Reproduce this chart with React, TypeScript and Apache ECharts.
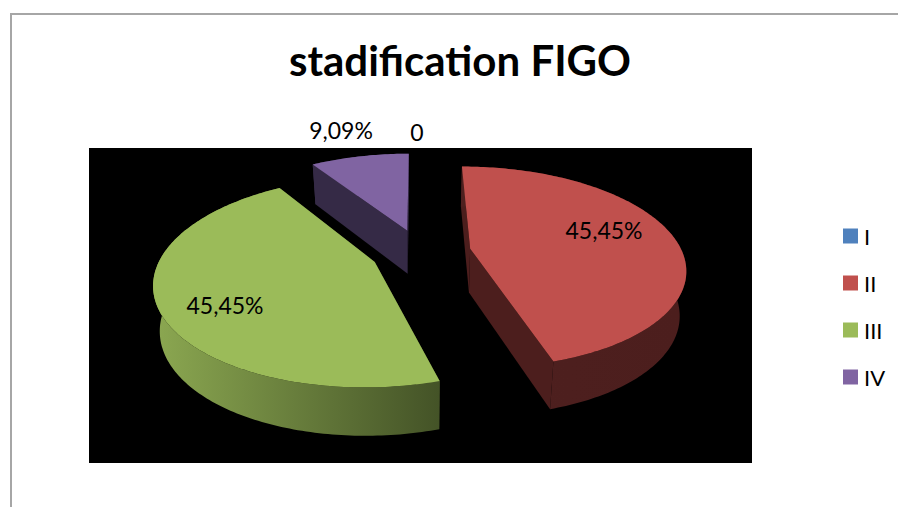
import React, { useEffect, useRef } from "react";
import * as echarts from "echarts";

const titleText = "stadification FIGO";
const stages = ["I", "II", "III", "IV"];
const counts = [0, 5, 5, 1];
const topColors = ["#4f81bd", "#c0504d", "#9bbb59", "#8064a2"];
const wallColors: string[][] = [
  ["#27405e", "#27405e"],
  ["#4e201f", "#4c1e1d"],
  ["#8aa650", "#445327"],
  ["#352a46", "#352a46"],
];
const labelPositions: number[][] = [
  [417, 132],
  [604, 230],
  [225, 305],
  [341, 130],
];

const FONT = "Lato";
const START_DEG = -0.2;
const CX = 421;
const CY = 252;
const R = 212;
const TILT = 98.3;
const PERSP = 0.184;
const EXPLODE = 50;
const WALL = 44;
const WALL_P = 4;
const SHRINK = 0.975;
const total = counts.reduce((a, b) => a + b, 0);

function project(X: number, Z: number, lower: boolean): number[] {
  const s = 1 / (1 - (PERSP * Z) / R);
  const x = X * s;
  const y = (Z / R) * TILT * s;
  if (!lower) return [CX + x, CY + y];
  return [CX + x * SHRINK, CY + y + WALL + (WALL_P * Z) / R];
}

function sliceGeometry(i: number, value: number) {
  const before = counts.slice(0, i).reduce((a, b) => a + b, 0);
  const a0 = START_DEG + (before / total) * 360;
  const a1 = a0 + (value / total) * 360;
  const mid = (((a0 + a1) / 2) * Math.PI) / 180;
  const ax = Math.sin(mid) * EXPLODE;
  const az = -Math.cos(mid) * EXPLODE;
  const steps = Math.max(2, Math.ceil(a1 - a0));
  const rim: number[][] = [];
  for (let k = 0; k <= steps; k++) {
    const t = ((a0 + ((a1 - a0) * k) / steps) * Math.PI) / 180;
    rim.push([ax + Math.sin(t) * R, az - Math.cos(t) * R]);
  }
  return { ax, az, rim };
}

function makeRenderItem(i: number) {
  return (_params: any, api: any) => {
    const value = api.value(0);
    const children: any[] = [];
    if (value > 0) {
      const { ax, az, rim } = sliceGeometry(i, value);
      const topRim = rim.map((p) => project(p[0], p[1], false));
      const lowRim = rim.map((p) => project(p[0], p[1], true));
      const apexTop = project(ax, az, false);
      const apexLow = project(ax, az, true);
      const xs = lowRim.map((p) => p[0]);
      const wallFill = new echarts.graphic.LinearGradient(
        Math.min(...xs), 0, Math.max(...xs), 0,
        [
          { offset: 0, color: wallColors[i][0] },
          { offset: 1, color: wallColors[i][1] },
        ],
        true
      );
      const faceFill = wallColors[i][1];
      const last = rim.length - 1;
      children.push({
        type: "polygon",
        shape: { points: [apexTop, topRim[0], lowRim[0], apexLow] },
        style: { fill: faceFill },
      });
      children.push({
        type: "polygon",
        shape: { points: [apexTop, topRim[last], lowRim[last], apexLow] },
        style: { fill: faceFill },
      });
      children.push({
        type: "polygon",
        shape: { points: [...topRim, ...lowRim.slice().reverse()] },
        style: { fill: wallFill },
      });
      children.push({
        type: "polygon",
        shape: { points: [apexTop, ...topRim] },
        style: { fill: topColors[i] },
      });
    }
    children.push({
      type: "text",
      z2: 10,
      x: labelPositions[i][0],
      y: labelPositions[i][1],
      style: {
        text: value === 0 ? "0" : ((value / total) * 100).toFixed(2).replace(".", ",") + "%",
        font: `23px ${FONT}`,
        fill: "#000",
        align: "center",
        verticalAlign: "middle",
      },
    });
    return { type: "group", children };
  };
}

export default function App() {
  const ref = useRef<HTMLDivElement>(null);
  useEffect(() => {
    document.body.style.margin = "0";
    const chart = echarts.init(ref.current!, undefined, { renderer: "svg" });
    const order = [3, 1, 2, 0];
    chart.setOption({
      animation: false,
      backgroundColor: "#fff",
      title: {
        text: titleText,
        left: 455,
        top: 34,
        textAlign: "center",
        textStyle: { fontFamily: FONT, fontWeight: "bold", fontSize: 42, color: "#000" },
      },
      grid: { show: true, left: 89, top: 148, width: 663, height: 315, backgroundColor: "#000", borderWidth: 0 },
      xAxis: { type: "value", show: false },
      yAxis: { type: "value", show: false },
      legend: {
        data: stages,
        orient: "vertical",
        left: 838,
        top: 220,
        icon: "rect",
        itemWidth: 15,
        itemHeight: 15,
        itemGap: 25,
        selectedMode: false,
        textStyle: { fontFamily: FONT, fontSize: 22, color: "#000", padding: [0, 0, 4, 1], lineHeight: 15 },
      },
      graphic: [
        {
          type: "polyline",
          silent: true,
          shape: { points: [[11, 507], [11, 14], [898, 14]] },
          style: { stroke: "#a6a6a6", lineWidth: 2, fill: "none" },
        },
      ],
      series: order.map((i) => ({
        type: "custom",
        name: stages[i],
        coordinateSystem: "none",
        silent: true,
        itemStyle: { color: topColors[i] },
        data: [[counts[i]]],
        renderItem: makeRenderItem(i),
      })),
    });
    return () => chart.dispose();
  }, []);
  return <div ref={ref} style={{ position: "fixed", left: 0, top: 0, width: 898, height: 507, overflow: "hidden" }} />;
}
